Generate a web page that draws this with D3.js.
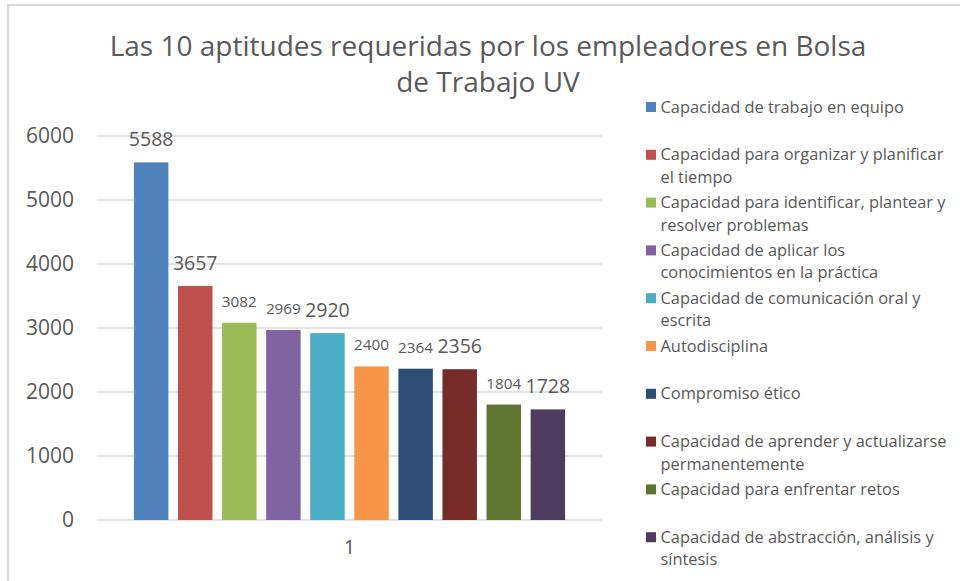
<!DOCTYPE html>
<html>

<head>
    <script type="text/javascript" src="https://cdnjs.cloudflare.com/ajax/libs/d3/7.8.5/d3.min.js"></script>
    <style>
        body {
            margin: 0;
            background: white;
        }

        svg text {
            font-family: "Open Sans", sans-serif;
            fill: #595959;
        }
    </style>
</head>

<body>
    <script>
        var categories = ['1'];
        var series = [
            'Capacidad de trabajo en equipo',
            'Capacidad para organizar y planificar\nel tiempo',
            'Capacidad para identificar, plantear y\nresolver problemas',
            'Capacidad de aplicar los\nconocimientos en la práctica',
            'Capacidad de comunicación oral y\nescrita',
            'Autodisciplina',
            'Compromiso ético',
            'Capacidad de aprender y actualizarse\npermanentemente',
            'Capacidad para enfrentar retos',
            'Capacidad de abstracción, análisis y\nsíntesis'
        ];
        var values = [5588, 3657, 3082, 2969, 2920, 2400, 2364, 2356, 1804, 1728];
        var yTicks = [0, 1000, 2000, 3000, 4000, 5000, 6000];
        var colors = ['#4F81BD', '#C0504D', '#9BBB59', '#8064A2', '#4BACC6',
            '#F79646', '#2C4D75', '#772C2A', '#5F7530', '#4D3B62'];
        // the original chart used two label sizes
        var bigLabel = [true, true, false, false, true, false, false, true, false, true];

        var width = 960,
            height = 581;

        var svg = d3.select('body')
            .append('svg')
            .attr('width', width)
            .attr('height', height);

        // frame (only top and left edges visible)
        svg.append('path')
            .attr('d', 'M8,581V5H960')
            .attr('fill', 'none')
            .attr('stroke', '#d9d9d9')
            .attr('stroke-width', 2);

        var title = svg.append('text')
            .attr('text-anchor', 'middle')
            .style('font-size', '28px');
        title.append('tspan').attr('x', 488).attr('y', 56)
            .text('Las 10 aptitudes requeridas por los empleadores en Bolsa');
        title.append('tspan').attr('x', 488).attr('y', 92)
            .text('de Trabajo UV');

        var y = d3.scaleLinear()
            .domain([0, 6000])
            .range([520, 136]);

        var x0 = d3.scaleBand()
            .domain(categories)
            .range([97, 602])
            .paddingInner(0)
            .paddingOuter(0.0856);

        var x1 = d3.scaleBand()
            .domain(series)
            .range([0, x0.bandwidth()])
            .paddingInner(0.218)
            .paddingOuter(0);

        // gridlines
        svg.append('g')
            .selectAll('line')
            .data(yTicks)
            .enter()
            .append('line')
            .attr('x1', 97)
            .attr('x2', 602)
            .attr('y1', function(d) { return y(d); })
            .attr('y2', function(d) { return y(d); })
            .attr('stroke', '#d9d9d9')
            .attr('stroke-width', 1.5);

        var yAxis = svg.append('g')
            .attr('transform', 'translate(97,0)')
            .call(d3.axisLeft(y).tickValues(yTicks).tickFormat(d3.format('d')).tickSize(0).tickPadding(23));
        yAxis.select('.domain').remove();
        yAxis.selectAll('text')
            .style('font-size', '21px')
            .style('font-family', '"Open Sans", sans-serif')
            .attr('fill', '#595959');

        var xAxis = svg.append('g')
            .attr('transform', 'translate(0,520)')
            .call(d3.axisBottom(x0).tickSize(0).tickPadding(20));
        xAxis.select('.domain').remove();
        xAxis.selectAll('text')
            .style('font-size', '20px')
            .style('font-family', '"Open Sans", sans-serif')
            .attr('fill', '#595959');

        var group = svg.selectAll('g.cat')
            .data(categories)
            .enter()
            .append('g')
            .attr('class', 'cat')
            .attr('transform', function(d) { return 'translate(' + x0(d) + ',0)'; });

        group.selectAll('rect')
            .data(values)
            .enter()
            .append('rect')
            .attr('x', function(d, i) { return x1(series[i]); })
            .attr('y', function(d) { return y(d); })
            .attr('width', x1.bandwidth())
            .attr('height', function(d) { return y(0) - y(d); })
            .attr('fill', function(d, i) { return colors[i]; });

        group.selectAll('text.lbl')
            .data(values)
            .enter()
            .append('text')
            .attr('class', 'lbl')
            .attr('text-anchor', 'middle')
            .attr('x', function(d, i) { return x1(series[i]) + x1.bandwidth() / 2; })
            .attr('y', function(d) { return y(d) - 16; })
            .style('font-size', function(d, i) { return bigLabel[i] ? '19.5px' : '15.3px'; })
            .attr('fill', '#404040')
            .text(function(d) { return d; });

        // legend
        var legend = svg.selectAll('g.leg')
            .data(series)
            .enter()
            .append('g')
            .attr('class', 'leg')
            .attr('transform', function(d, i) { return 'translate(646,' + (107 + i * 47.8) + ')'; });

        legend.append('rect')
            .attr('x', 0)
            .attr('y', -5)
            .attr('width', 10)
            .attr('height', 10)
            .attr('fill', function(d, i) { return colors[i]; });

        legend.append('text')
            .style('font-size', '16.4px')
            .each(function(d) {
                var t = d3.select(this);
                d.split('\n').forEach(function(line, k) {
                    t.append('tspan')
                        .attr('x', 14.5)
                        .attr('y', 5.5 + k * 22.5)
                        .text(line);
                });
            });
    </script>
</body>

</html>
